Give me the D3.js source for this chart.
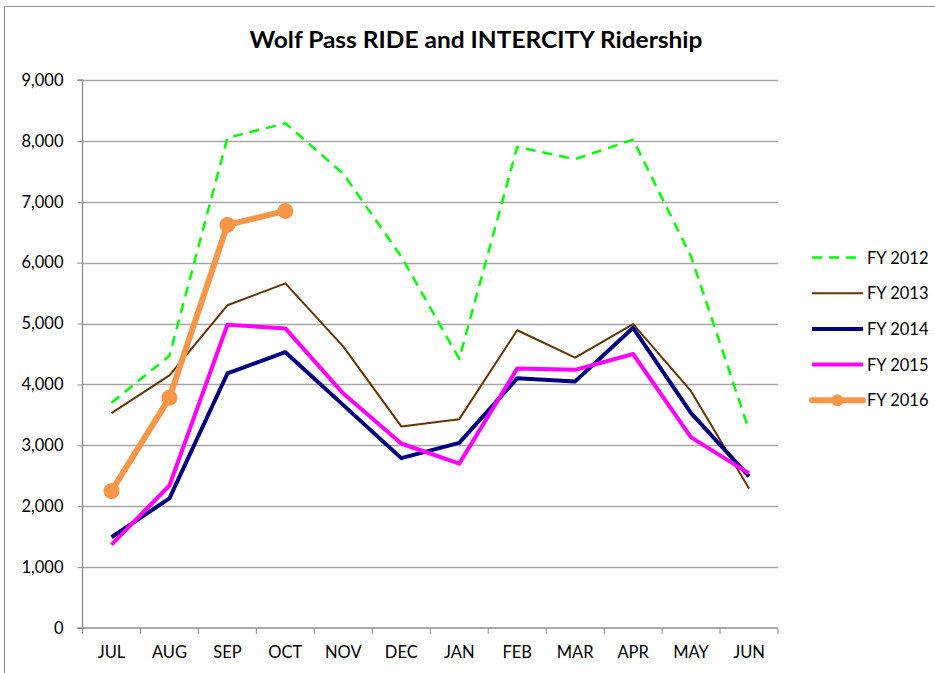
<!DOCTYPE html>
<html>
<head>
<meta charset="utf-8">
<script src="https://cdn.jsdelivr.net/npm/d3@7"></script>
<style>
  body { margin: 0; background: #fff; }
  svg text { font-family: Lato, "Open Sans", sans-serif; fill: #000; }
</style>
</head>
<body>
<svg id="chart" width="935" height="673"></svg>
<script>
// ---- data ----
const months = ['JUL', 'AUG', 'SEP', 'OCT', 'NOV', 'DEC', 'JAN', 'FEB', 'MAR', 'APR', 'MAY', 'JUN'];
const fy2012 = [3700, 4470, 8050, 8290, 7460, 6100, 4420, 7900, 7700, 8020, 6100, 3250];
const fy2013 = [3530, 4150, 5300, 5660, 4620, 3310, 3430, 4890, 4440, 4990, 3890, 2290];
const fy2014 = [1490, 2130, 4180, 4530, 3660, 2790, 3040, 4100, 4050, 4930, 3530, 2490];
const fy2015 = [1370, 2340, 4980, 4920, 3850, 3030, 2700, 4260, 4240, 4500, 3130, 2540];
const fy2016 = [2250, 3780, 6620, 6850];
const yTicks = [0, 1000, 2000, 3000, 4000, 5000, 6000, 7000, 8000, 9000];

const series = [
  { name: 'FY 2012', values: fy2012, color: '#00ff00', width: 2.5, dash: '10,7' },
  { name: 'FY 2013', values: fy2013, color: '#663300', width: 2 },
  { name: 'FY 2014', values: fy2014, color: '#000080', width: 4 },
  { name: 'FY 2015', values: fy2015, color: '#ff00ff', width: 4 },
  { name: 'FY 2016', values: fy2016, color: '#f79646', width: 6, marker: true }
];

// ---- layout ----
const svg = d3.select('#chart');
const plotLeft = 82.5, plotRight = 778, plotTop = 80, plotBottom = 628;
const labelSize = '16.5px';

// outer frame (chart area border)
svg.append('path')
  .attr('d', 'M4.5,673 L4.5,6.5 L935,6.5')
  .attr('fill', 'none')
  .attr('stroke', '#8c8c8c')
  .attr('stroke-width', 1);

svg.append('text')
  .attr('x', 476)
  .attr('y', 48)
  .attr('text-anchor', 'middle')
  .attr('font-size', '22px')
  .attr('font-weight', 'bold')
  .attr('textLength', 453)
  .attr('lengthAdjust', 'spacingAndGlyphs')
  .text('Wolf Pass RIDE and INTERCITY Ridership');

const x = d3.scaleBand().domain(months).range([plotLeft, plotRight]);
const y = d3.scaleLinear().domain([0, 9000]).range([plotBottom, plotTop]);

// gridlines
svg.append('g')
  .selectAll('line')
  .data(yTicks.filter(d => d > 0))
  .enter()
  .append('line')
  .attr('x1', plotLeft)
  .attr('x2', plotRight)
  .attr('y1', d => Math.round(y(d)) + 0.5)
  .attr('y2', d => Math.round(y(d)) + 0.5)
  .attr('stroke', '#a6a6a6')
  .attr('stroke-width', 1.3);

// y axis
const yAxis = svg.append('g')
  .attr('transform', `translate(${plotLeft},0)`)
  .call(d3.axisLeft(y).tickValues(yTicks).tickFormat(d3.format(',')).tickSize(5).tickPadding(14));
yAxis.selectAll('text').attr('font-size', labelSize);

// x axis with ticks at band edges
const xAxis = svg.append('g')
  .attr('transform', `translate(0,${plotBottom})`)
  .call(d3.axisBottom(x).tickSize(0).tickPadding(18));
xAxis.selectAll('text').attr('font-size', labelSize);
xAxis.selectAll('.tick line').remove();
xAxis.selectAll('.edge')
  .data(months.map(m => x(m)).concat([plotRight]))
  .enter()
  .append('line')
  .attr('x1', d => d)
  .attr('x2', d => d)
  .attr('y1', 0)
  .attr('y2', 6)
  .attr('stroke', '#8c8c8c');

svg.selectAll('.domain').attr('stroke', '#8c8c8c').attr('stroke-width', 1.3);
yAxis.selectAll('.tick line').attr('stroke', '#8c8c8c');
yAxis.select('.domain').attr('d', `M-5,${plotTop}H0V${plotBottom}H-5`);
xAxis.select('.domain').attr('d', `M${plotLeft},0H${plotRight}`);

// lines
const line = d3.line()
  .x((d, i) => x(months[i]) + x.bandwidth() / 2)
  .y(d => y(d));

series.forEach(s => {
  svg.append('path')
    .datum(s.values)
    .attr('fill', 'none')
    .attr('stroke', s.color)
    .attr('stroke-width', s.width)
    .attr('stroke-dasharray', s.dash || null)
    .attr('stroke-linejoin', 'round')
    .attr('stroke-linecap', s.marker ? 'round' : 'butt')
    .attr('d', line);

  if (s.marker) {
    svg.append('g')
      .selectAll('circle')
      .data(s.values)
      .enter()
      .append('circle')
      .attr('cx', (d, i) => x(months[i]) + x.bandwidth() / 2)
      .attr('cy', d => y(d))
      .attr('r', 8)
      .attr('fill', s.color);
  }
});

// legend
const legend = svg.append('g')
  .selectAll('g')
  .data(series)
  .enter()
  .append('g')
  .attr('transform', (d, i) => `translate(0,${257.5 + i * 35.7})`);

legend.append('line')
  .attr('x1', 812)
  .attr('x2', 863)
  .attr('stroke', d => d.color)
  .attr('stroke-width', d => d.width)
  .attr('stroke-dasharray', d => d.dash || null)
  .attr('stroke-linecap', d => d.marker ? 'round' : 'butt');

legend.filter(d => d.marker)
  .append('circle')
  .attr('cx', 837.5)
  .attr('r', 6)
  .attr('fill', d => d.color);

legend.append('text')
  .attr('x', 867)
  .attr('y', 6)
  .attr('font-size', labelSize)
  .text(d => d.name);
</script>
</body>
</html>
